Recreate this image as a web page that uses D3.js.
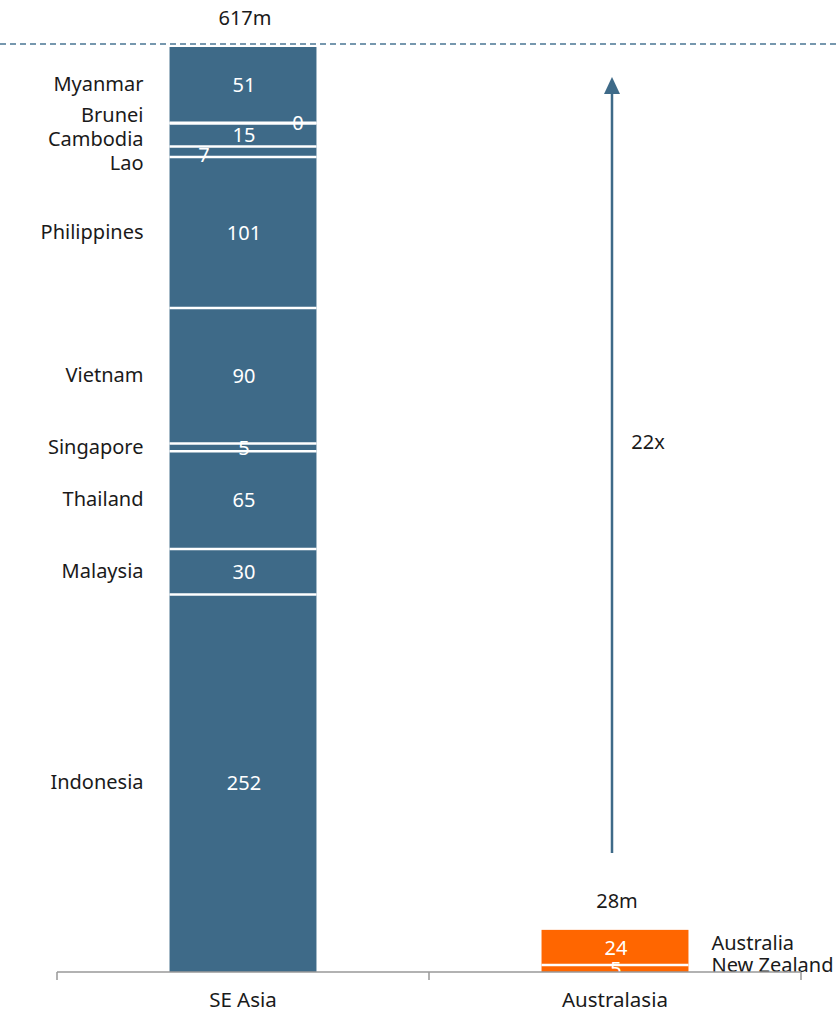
<!DOCTYPE html>
<html>
<head>
<meta charset="utf-8">
<script src="https://cdn.jsdelivr.net/npm/d3@7/dist/d3.min.js"></script>
<style>
  html, body { margin: 0; padding: 0; background: #fff; }
  svg { display: block; font-family: "Noto Sans", "Open Sans", sans-serif; }
</style>
</head>
<body>
<div id="chart"></div>
<script>
// Population (millions), stacked bottom to top
const groups = ['SE Asia', 'Australasia'];
const seCountries = ['Indonesia', 'Malaysia', 'Thailand', 'Singapore', 'Vietnam', 'Philippines', 'Lao', 'Cambodia', 'Brunei', 'Myanmar'];
const seValues = [251.8, 30.3, 65.2, 5.2, 90.4, 100.7, 6.9, 15.4, 0.4, 50.6];
const auCountries = ['New Zealand', 'Australia'];
const auValues = [4.6, 23.5];
const multipleLabel = '22x';

const width = 838, height = 1012;
const baseY = 972;
const blue = '#3e6a88', orange = '#ff6600', ink = '#1a1a1a';

const svg = d3.select('#chart').append('svg')
    .attr('width', width).attr('height', height);

const seTotal = d3.sum(seValues);
const auTotal = d3.sum(auValues);

const x = d3.scaleBand().domain(groups).range([57, 801]).padding(0);
const barW = x.bandwidth() * 0.395;
const y = d3.scaleLinear().domain([0, seTotal]).range([baseY, 47]);

// build stacked segments
function stack(names, values, group, color) {
    let acc = 0;
    return names.map((n, i) => {
        const s = { name: n, value: values[i], y0: acc, y1: acc + values[i], group, color };
        acc += values[i];
        return s;
    });
}
const segs = stack(seCountries, seValues, 'SE Asia', blue)
    .concat(stack(auCountries, auValues, 'Australasia', orange));

// dashed reference line at SE Asia total
svg.append('line')
    .attr('x1', 0).attr('x2', width)
    .attr('y1', y(seTotal) - 3).attr('y2', y(seTotal) - 3)
    .attr('stroke', '#4a7594').attr('stroke-width', 1.3)
    .attr('stroke-dasharray', '6,4');

const barG = svg.append('g');
barG.selectAll('rect').data(segs).join('rect')
    .attr('x', d => x(d.group) + (x.bandwidth() - barW) / 2)
    .attr('width', barW)
    .attr('y', d => y(d.y1))
    .attr('height', d => y(d.y0) - y(d.y1))
    .attr('fill', d => d.color);

// value labels (drawn under the separators, like the original)
const nudge = { Brunei: [54, 0], Lao: [-40, 3] };
barG.selectAll('text.val').data(segs).join('text')
    .attr('class', 'val')
    .attr('x', d => x(d.group) + x.bandwidth() / 2 + 1 + (nudge[d.name] ? nudge[d.name][0] : 0))
    .attr('y', d => (y(d.y0) + y(d.y1)) / 2 + (nudge[d.name] ? nudge[d.name][1] : 0))
    .attr('dy', '0.36em')
    .attr('text-anchor', 'middle')
    .attr('fill', '#fff')
    .attr('font-size', 20)
    .text(d => Math.round(d.value));

// white separators between segments
barG.selectAll('line.sep').data(segs.filter(d => d.y0 > 0)).join('line')
    .attr('class', 'sep')
    .attr('x1', d => x(d.group) + (x.bandwidth() - barW) / 2)
    .attr('x2', d => x(d.group) + (x.bandwidth() + barW) / 2)
    .attr('y1', d => y(d.y0)).attr('y2', d => y(d.y0))
    .attr('stroke', '#fff').attr('stroke-width', 2.5);

// hide anything spilling under the axis line
svg.append('rect').attr('x', 0).attr('y', baseY).attr('width', width).attr('height', height - baseY).attr('fill', '#fff');

// country labels with simple overlap avoidance
function dodge(items, gap) {
    items.sort((a, b) => a.cy - b.cy);
    let groupsList = items.map(d => ({ members: [d], mean: d.cy }));
    let changed = true;
    while (changed) {
        changed = false;
        for (let i = 0; i < groupsList.length - 1; i++) {
            const a = groupsList[i], b = groupsList[i + 1];
            const aBottom = a.mean + (a.members.length - 1) * gap / 2;
            const bTop = b.mean - (b.members.length - 1) * gap / 2;
            if (bTop - aBottom < gap) {
                const members = a.members.concat(b.members);
                const mean = d3.mean(members, m => m.cy);
                groupsList.splice(i, 2, { members, mean });
                changed = true;
                break;
            }
        }
    }
    groupsList.forEach(g => {
        const shift = g.members.length > 1 ? 2 : -1;
        g.members.forEach((m, i) => { m.ly = g.mean + shift + (i - (g.members.length - 1) / 2) * gap; });
    });
    return items;
}

const seLabels = dodge(segs.filter(d => d.group === 'SE Asia').map(d => ({ ...d, cy: (y(d.y0) + y(d.y1)) / 2 })), 24);
const auLabels = dodge(segs.filter(d => d.group === 'Australasia').map(d => ({ ...d, cy: (y(d.y0) + y(d.y1)) / 2 })), 22);

svg.append('g').selectAll('text').data(seLabels).join('text')
    .attr('x', d => x(d.group) + (x.bandwidth() - barW) / 2 - 26)
    .attr('y', d => d.ly)
    .attr('dy', '0.36em')
    .attr('text-anchor', 'end')
    .attr('fill', ink).attr('font-size', 20)
    .text(d => d.name);

svg.append('g').selectAll('text').data(auLabels).join('text')
    .attr('x', d => x(d.group) + (x.bandwidth() + barW) / 2 + 23)
    .attr('y', d => d.ly - 6)
    .attr('dy', '0.36em')
    .attr('text-anchor', 'start')
    .attr('fill', ink).attr('font-size', 20)
    .text(d => d.name);

// totals
const totals = [{ group: 'SE Asia', v: seTotal }, { group: 'Australasia', v: auTotal }];
svg.append('g').selectAll('text').data(totals).join('text')
    .attr('x', d => x(d.group) + x.bandwidth() / 2 + 2)
    .attr('y', d => y(d.v) - 29)
    .attr('dy', '0.36em')
    .attr('text-anchor', 'middle')
    .attr('fill', ink).attr('font-size', 20)
    .text(d => Math.round(d.v) + 'm');

// axis
const axis = svg.append('g').attr('transform', `translate(0,${baseY})`);
axis.append('line').attr('x1', 57).attr('x2', 801).attr('stroke', '#999').attr('stroke-width', 1.5);
axis.selectAll('line.tick').data(groups.map(g => x(g)).concat([x.range()[1]])).join('line')
    .attr('class', 'tick')
    .attr('x1', d => d).attr('x2', d => d)
    .attr('y1', 0).attr('y2', 8)
    .attr('stroke', '#999').attr('stroke-width', 1.5);
axis.selectAll('text').data(groups).join('text')
    .attr('x', d => x(d) + x.bandwidth() / 2)
    .attr('y', 28)
    .attr('dy', '0.36em')
    .attr('text-anchor', 'middle')
    .attr('fill', ink).attr('font-size', 20.5)
    .text(d => d);

// multiple arrow
const arrowX = x('Australasia') + x.bandwidth() / 2 - 3;
const tipY = 77;
svg.append('line')
    .attr('x1', arrowX).attr('x2', arrowX)
    .attr('y1', 853).attr('y2', tipY + 12)
    .attr('stroke', blue).attr('stroke-width', 2.5);
svg.append('path')
    .attr('d', `M${arrowX},${tipY}L${arrowX + 8},${tipY + 17}L${arrowX - 8},${tipY + 17}Z`)
    .attr('fill', blue);
svg.append('text')
    .attr('x', arrowX + 36).attr('y', 442)
    .attr('dy', '0.36em')
    .attr('text-anchor', 'middle')
    .attr('fill', ink).attr('font-size', 20)
    .text(multipleLabel);
</script>
</body>
</html>
